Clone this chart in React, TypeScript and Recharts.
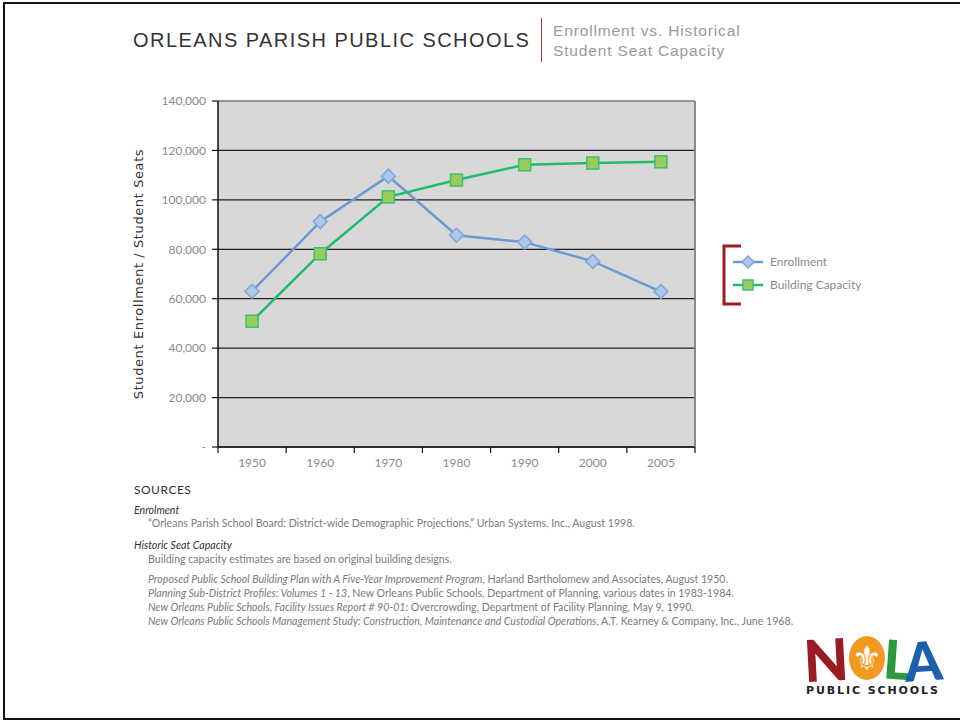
import React from 'react';
import { ComposedChart, Line, XAxis, YAxis, CartesianGrid } from 'recharts';

const years = ['1950', '1960', '1970', '1980', '1990', '2000', '2005'];
const enrollment = [63000, 91200, 109600, 85700, 82900, 75100, 62900];
const capacity = [50900, 78200, 101200, 108000, 114200, 114900, 115400];
const yTicks = [0, 20000, 40000, 60000, 80000, 100000, 120000, 140000];

const data = years.map((year, i) => ({ year, enrollment: enrollment[i], capacity: capacity[i] }));

const PLOT_LEFT = 218;
const PLOT_RIGHT = 695;
const PLOT_TOP = 101;
const PLOT_BOTTOM = 447;
const BAND = (PLOT_RIGHT - PLOT_LEFT) / years.length;

const BLUE_LINE = '#6b9ad2';
const BLUE_FILL = '#adc8ea';
const BLUE_EDGE = '#7da7da';
const GREEN_LINE = '#22bb6e';
const GREEN_FILL = '#96cc5c';
const GREEN_EDGE = '#3cbf6e';
const RED = '#9b1c22';

const sources = [
  { plain: 'Proposed Public School Building Plan with A Five-Year Improvement Program', rest: ', Harland Bartholomew and Associates, August 1950.' },
  { plain: 'Planning Sub-District Profiles: Volumes 1 - 13', rest: ', New Orleans Public Schools, Department of Planning, various dates in 1983-1984.' },
  { plain: 'New Orleans Public Schools, Facility Issues Report # 90-01', rest: ': Overcrowding, Department of Facility Planning, May 9, 1990.' },
  { plain: 'New Orleans Public Schools Management Study: Construction, Maintenance and Custodial Operations', rest: ', A.T. Kearney & Company, Inc., June 1968.' },
];

const Diamond = ({ cx, cy, r = 7 }: any) => (
  <path
    d={`M${cx},${cy - r}L${cx + r},${cy}L${cx},${cy + r}L${cx - r},${cy}Z`}
    fill={BLUE_FILL}
    stroke={BLUE_EDGE}
    strokeWidth={1.5}
  />
);

const Square = ({ cx, cy, r = 6 }: any) => (
  <rect x={cx - r} y={cy - r} width={r * 2} height={r * 2} fill={GREEN_FILL} stroke={GREEN_EDGE} strokeWidth={1.5} />
);

const XTick = (props: any) => {
  const { x, y, payload, index } = props;
  return (
    <g>
      <line x1={x - BAND / 2} x2={x - BAND / 2} y1={y} y2={y + 6} stroke="#111" strokeWidth={1.2} />
      {index === years.length - 1 && (
        <line x1={x + BAND / 2} x2={x + BAND / 2} y1={y} y2={y + 6} stroke="#111" strokeWidth={1.2} />
      )}
      <text x={x} y={y + 20} textAnchor="middle" fill="#8a8a8a" fontSize={12} fontFamily="Lato">
        {payload.value}
      </text>
    </g>
  );
};

const fmt = (v: number) => (v === 0 ? '-' : v.toLocaleString('en-US'));

const YLabel = (props: any) => {
  const { viewBox } = props;
  const x = viewBox.x - 20;
  const y = viewBox.y + viewBox.height / 2;
  return (
    <text
      x={x}
      y={y}
      transform={`rotate(-90, ${x}, ${y})`}
      textAnchor="middle"
      dominantBaseline="central"
      fill="#333"
      fontSize={13}
      fontFamily="DejaVu Sans"
      letterSpacing={0.6}
    >
      Student Enrollment / Student Seats
    </text>
  );
};

const LegendBox = () => (
  <svg width={160} height={70} style={{ position: 'absolute', left: 718, top: 240 }}>
    <path d="M23,6 L6,6 L6,64 L23,64" fill="none" stroke={RED} strokeWidth={3} />
    <line x1={15} x2={45} y1={22} y2={22} stroke={BLUE_LINE} strokeWidth={2.5} />
    <Diamond cx={30} cy={22} r={6} />
    <text x={52} y={26} fill="#8a8a8a" fontSize={12} fontFamily="Lato">Enrollment</text>
    <line x1={15} x2={45} y1={45} y2={45} stroke={GREEN_LINE} strokeWidth={2.5} />
    <Square cx={30} cy={45} r={5} />
    <text x={52} y={49} fill="#8a8a8a" fontSize={12} fontFamily="Lato">Building Capacity</text>
  </svg>
);

const Logo = () => (
  <svg width={150} height={95} style={{ position: 'absolute', left: 800, top: 610 }}>
    <text x={4} y={71} fill="#9b1b22" fontSize={58} fontWeight={900} fontFamily="Lato" transform="rotate(-3, 28, 55)">N</text>
    <ellipse cx={67} cy={48} rx={18} ry={22} fill="#f29a1f" />
    <text x={67} y={60} textAnchor="middle" fill="#fff" fontSize={34} fontFamily="DejaVu Sans">⚜</text>
    <text x={84} y={69} fill="#2a9a3c" fontSize={54} fontWeight={900} fontFamily="Lato" transform="rotate(4, 95, 45)">L</text>
    <text x={104} y={71} fill="#1c5fae" fontSize={54} fontWeight={900} fontFamily="Lato" transform="rotate(-4, 120, 45)">A</text>
    <text x={6} y={84} fill="#222" fontSize={11} fontWeight={700} fontFamily="DejaVu Sans" letterSpacing={1.9}>PUBLIC SCHOOLS</text>
  </svg>
);

export default function App() {
  const gray = '#7a7a7a';
  const line = (top: number, children: React.ReactNode, left = 148, extra: React.CSSProperties = {}) => (
    <div style={{ position: 'absolute', left, top: top - 7, lineHeight: '14px', whiteSpace: 'nowrap', ...extra }}>{children}</div>
  );
  return (
    <div style={{ position: 'absolute', left: 0, top: 0, width: 960, height: 721, background: '#fff', overflow: 'hidden', fontFamily: 'Lato' }}>
      <div
        style={{
          position: 'absolute',
          left: 3,
          top: 2,
          width: 960,
          height: 718,
          boxSizing: 'border-box',
          borderTop: '2px solid #111',
          borderLeft: '2px solid #111',
          borderBottom: '2px solid #111',
        }}
      />
      <div style={{ position: 'absolute', left: 133, top: 28, fontFamily: 'Liberation Sans', fontSize: 20, letterSpacing: 1.45, color: '#333', lineHeight: '24px' }}>
        ORLEANS PARISH PUBLIC SCHOOLS
      </div>
      <div style={{ position: 'absolute', left: 541, top: 18, width: 1, height: 44, background: '#b03030' }} />
      <div style={{ position: 'absolute', left: 553, top: 21, fontFamily: 'Liberation Sans', fontSize: 15.5, color: '#9a9a9a', lineHeight: '19.5px', letterSpacing: 0.85 }}>
        Enrollment vs. Historical
        <br />
        Student Seat Capacity
      </div>

      <div style={{ position: 'absolute', left: 0, top: 0 }}>
        <ComposedChart
          width={960}
          height={721}
          data={data}
          margin={{ top: PLOT_TOP - 1, left: PLOT_LEFT - 60, right: 960 - PLOT_RIGHT - 1, bottom: 721 - PLOT_BOTTOM - 30 }}
        >
          <CartesianGrid vertical={false} fill="#d8d8d8" stroke="#222" strokeWidth={1.2} fillOpacity={1} />
          <XAxis
            dataKey="year"
            scale="band"
            interval={0}
            axisLine={{ stroke: '#111', strokeWidth: 1.5 }}
            tickLine={false}
            tickSize={0}
            tickMargin={0}
            height={30}
            tick={<XTick />}
          />
          <XAxis xAxisId="top" orientation="top" dataKey="year" scale="band" height={1} tick={false} tickLine={false} axisLine={{ stroke: '#9a9a9a', strokeWidth: 1.5 }} />
          <YAxis
            domain={[0, 140000]}
            ticks={yTicks}
            interval={0}
            width={60}
            tickFormatter={fmt}
            tickSize={6}
            tickMargin={6}
            axisLine={{ stroke: '#111', strokeWidth: 1.5 }}
            tickLine={{ stroke: '#111', strokeWidth: 1.2 }}
            tick={{ fill: '#8a8a8a', fontSize: 12, fontFamily: 'Lato' }}
            label={<YLabel />}
          />
          <YAxis yAxisId="right" orientation="right" domain={[0, 140000]} width={1} tick={false} tickLine={false} axisLine={{ stroke: '#8a8a8a', strokeWidth: 2 }} />
          <Line
            dataKey="enrollment"
            stroke={BLUE_LINE}
            strokeWidth={2.5}
            isAnimationActive={false}
            dot={(p: any) => <Diamond key={`d${p.index}`} cx={p.cx} cy={p.cy} />}
            activeDot={false}
          />
          <Line
            dataKey="capacity"
            stroke={GREEN_LINE}
            strokeWidth={2.5}
            isAnimationActive={false}
            dot={(p: any) => <Square key={`s${p.index}`} cx={p.cx} cy={p.cy} />}
            activeDot={false}
          />
        </ComposedChart>
      </div>

      <LegendBox />

      {line(490, 'SOURCES', 134, { fontSize: 12, color: '#333', letterSpacing: 0.5 })}
      {line(510, <i>Enrolment</i>, 134, { fontSize: 10.6, color: '#333' })}
      {line(523, '“Orleans Parish School Board: District-wide Demographic Projections,” Urban Systems, Inc., August 1998.', 148, { fontSize: 10.6, color: gray })}
      {line(545, <i>Historic Seat Capacity</i>, 134, { fontSize: 10.6, color: '#333' })}
      {line(559, 'Building capacity estimates are based on original building designs.', 148, { fontSize: 10.6, color: gray })}
      {sources.map((s, i) =>
        line(
          579 + i * 14,
          <span key={i}>
            <i>{s.plain}</i>
            {s.rest}
          </span>,
          148,
          { fontSize: 10.6, color: gray }
        )
      )}

      <Logo />
    </div>
  );
}
